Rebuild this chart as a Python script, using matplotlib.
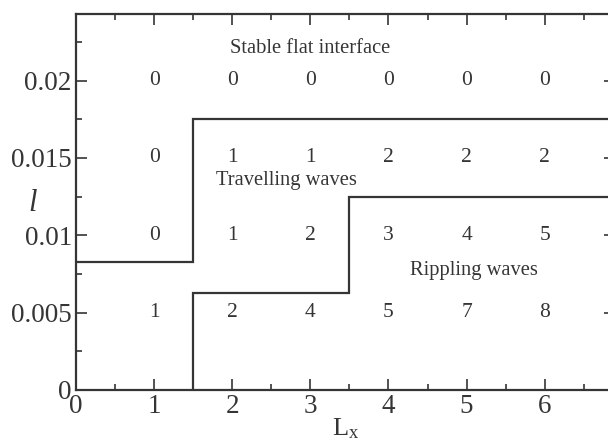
import matplotlib
matplotlib.use("Agg")
import matplotlib.pyplot as plt
from matplotlib.ticker import MultipleLocator

plt.rcParams['font.family'] = ['Liberation Serif', 'DejaVu Serif']
plt.rcParams['mathtext.fontset'] = 'custom'
plt.rcParams['mathtext.rm'] = 'Liberation Serif'
plt.rcParams['mathtext.it'] = 'Liberation Serif:italic'

# Data
Lx_values = [1, 2, 3, 4, 5, 6]
l_values = [0.02, 0.015, 0.01, 0.005]
counts = [
    [0, 0, 0, 0, 0, 0],
    [0, 1, 1, 2, 2, 2],
    [0, 1, 2, 3, 4, 5],
    [1, 2, 4, 5, 7, 8],
]
# Boundary: stable / travelling
upper_x = [0, 1.5, 1.5, 7.0]
upper_y = [0.0083, 0.0083, 0.0175, 0.0175]
# Boundary: travelling / rippling
lower_x = [1.5, 1.5, 3.5, 3.5, 7.0]
lower_y = [0.0, 0.0063, 0.0063, 0.0125, 0.0125]

region_labels = ["Stable flat interface", "Travelling waves", "Rippling waves"]
region_x = [3.0, 2.7, 5.1]
region_y = [0.0221, 0.01355, 0.00775]

col = '#353535'

fig = plt.figure(figsize=(6.08, 4.45), dpi=100)
ax = fig.add_axes([0.125, 0.1236, 0.8865, 0.845])

ax.plot(upper_x, upper_y, color=col, lw=1.6, solid_joinstyle='miter')
ax.plot(lower_x, lower_y, color=col, lw=1.6, solid_joinstyle='miter')

for i, yv in enumerate(l_values):
    for j, xv in enumerate(Lx_values):
        ax.text(xv, yv, str(counts[i][j]), ha='center', va='center',
                fontsize=15.5, color=col)

for lab, xx, yy in zip(region_labels, region_x, region_y):
    ax.text(xx, yy, lab, ha='center', va='center', fontsize=14.8, color=col)

ax.set_xlim(0, 6.9)
ax.set_ylim(0, 0.0243)
ax.xaxis.set_major_locator(MultipleLocator(1))
ax.xaxis.set_minor_locator(MultipleLocator(0.5))
ax.yaxis.set_major_locator(MultipleLocator(0.005))
ax.yaxis.set_minor_locator(MultipleLocator(0.0025))
ax.set_yticks([0, 0.005, 0.01, 0.015, 0.02])
ax.set_yticklabels(['0', '0.005', '0.01', '0.015', '0.02'])

ax.tick_params(which='both', direction='in', top=True, right=True,
               colors=col, labelsize=19.5, width=1.2)
ax.tick_params(which='major', length=8, pad=3)
ax.tick_params(which='minor', length=4)
for s in ax.spines.values():
    s.set_color(col)
    s.set_linewidth(1.6)

ax.set_xlabel(r'L$_{\rm x}$', fontsize=19, color=col, labelpad=-2)
fig.text(33 / 608, 1 - 203 / 445, 'l', fontsize=22, style='italic',
         color=col, ha='center', va='center')

fig.savefig('out.png', dpi=100)
